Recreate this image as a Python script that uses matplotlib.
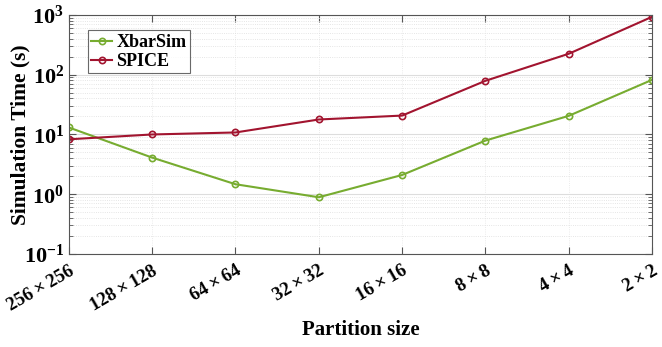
import matplotlib
matplotlib.use("Agg")
import matplotlib.pyplot as plt
import matplotlib.transforms as mtransforms
from matplotlib.ticker import LogLocator, NullFormatter

# Data
sizes = ['256\u2009\u00d7\u2009256', '128\u2009\u00d7\u2009128',
         '64\u2009\u00d7\u200964', '32\u2009\u00d7\u200932',
         '16\u2009\u00d7\u200916', '8\u2009\u00d7\u20098',
         '4\u2009\u00d7\u20094', '2\u2009\u00d7\u20092']
xbarsim = [13.1, 4.1, 1.47, 0.89, 2.1, 7.9, 20.5, 82]
spice = [8.3, 10.0, 10.8, 17.8, 20.7, 79, 224, 930]

plt.rcParams['font.family'] = ['Liberation Serif', 'DejaVu Serif']
plt.rcParams['font.weight'] = 'bold'
plt.rcParams['mathtext.fontset'] = 'custom'
plt.rcParams['mathtext.rm'] = 'Liberation Serif:bold'
plt.rcParams['mathtext.it'] = 'Liberation Serif:bold'
plt.rcParams['mathtext.bf'] = 'Liberation Serif:bold'

fig = plt.figure(figsize=(6.62, 3.47), dpi=100)
ax = fig.add_axes([0.104, 0.268, 0.881, 0.689])

xs = list(range(len(sizes)))
ax.plot(xs, xbarsim, color='#77AC30', lw=1.5, marker='o', ms=4.5,
        mfc='none', mew=1.2, label='XbarSim')
ax.plot(xs, spice, color='#A2142F', lw=1.5, marker='o', ms=4.5,
        mfc='none', mew=1.2, label='SPICE')

ax.set_yscale('log')
ax.set_ylim(0.1, 1000)
ax.set_xlim(0, len(sizes) - 1)
ax.set_xticks(xs)
ax.set_xticklabels(sizes, rotation=30, ha='right', va='top',
                   rotation_mode='anchor', fontsize=13.5)
shift = mtransforms.ScaledTranslation(10 / 100, 0, fig.dpi_scale_trans)
for lab in ax.get_xticklabels():
    lab.set_transform(lab.get_transform() + shift)
ax.yaxis.set_major_locator(LogLocator(base=10, numticks=10))
ax.yaxis.set_minor_locator(LogLocator(base=10, subs=range(2, 10), numticks=20))
ax.yaxis.set_minor_formatter(NullFormatter())
ax.tick_params(axis='y', labelsize=16)
ax.tick_params(axis='x', pad=6)

ax.tick_params(which='both', direction='in', top=True, right=True,
               color='#555555')
ax.tick_params(which='major', length=5)
ax.tick_params(which='minor', length=3)
for s in ax.spines.values():
    s.set_color('#555555')
    s.set_linewidth(0.8)

ax.grid(True, which='major', axis='y', color='#dddddd', lw=0.8)
ax.grid(True, which='minor', axis='y', color='#dddddd', lw=0.6, ls=':')
ax.grid(True, which='major', axis='x', color='#e4e4e4', lw=0.6, ls=':')

ax.set_xlabel('Partition size', fontsize=15, fontweight='bold', labelpad=4)
ax.set_ylabel('Simulation Time (s)', fontsize=15.5, fontweight='bold',
              ha='center', va='center')
ax.yaxis.set_label_coords(-0.083, 0.5)

leg = ax.legend(loc='upper left', bbox_to_anchor=(0.032, 0.935), fontsize=13,
                fancybox=False, edgecolor='#444444', handlelength=1.15,
                handletextpad=0.25, borderpad=0.2, labelspacing=0.1,
                borderaxespad=0)
leg.get_frame().set_linewidth(0.8)

fig.savefig('out.png', dpi=100)
